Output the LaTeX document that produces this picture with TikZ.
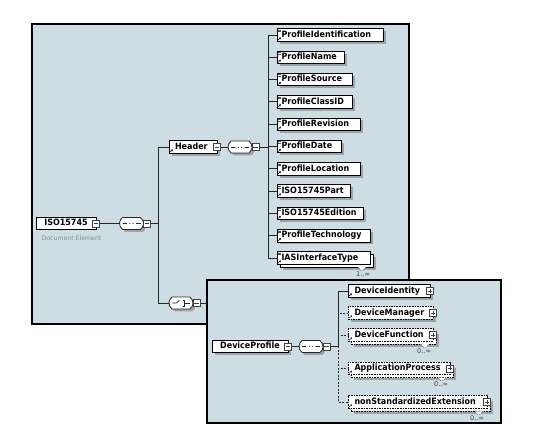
\documentclass[tikz,border=0pt]{standalone}
\usepackage{fontspec}
\usetikzlibrary{shapes.misc,shadows,arrows.meta}
\newfontfamily\dvs{DejaVu Sans}
\newfontfamily\dvb{DejaVu Sans}[FakeStretch=0.92]
\newcommand\elfont{\dvb\bfseries\fontsize{8.7}{9.5}\selectfont}
\newcommand\lbox[2]{\makebox[#1pt][l]{#2}}
\definecolor{panelbg}{RGB}{206,220,228}
\definecolor{shd}{RGB}{156,164,170}
\definecolor{lbl}{RGB}{136,144,150}
\begin{document}
\begin{tikzpicture}[x=1pt,y=-1pt,
  every node/.style={outer sep=0pt},
  panel/.style={draw=black, fill=panelbg, anchor=north west, inner sep=0pt},
  shdw/.style={drop shadow={shadow xshift=2.5pt,shadow yshift=-2.5pt,fill=shd,opacity=1}},
  elbox/.style={draw=black, fill=white, line width=0.8pt, anchor=west, minimum height=12.5pt,
    inner ysep=0pt, font=\elfont, text height=6.3pt, text depth=1.8pt},
  opt/.style={dash pattern=on 1.6pt off 1pt},
  refic/.style={path picture={\draw[black, line width=0.5pt, -{Stealth[length=1.8pt,width=2.2pt]}]
      ([xshift=1.2pt,yshift=1.2pt]path picture bounding box.south west) -- ++(2.6pt,2.6pt);}},
  attric/.style={path picture={\draw[black, line width=0.5pt, -{Stealth[length=1.8pt,width=2.2pt]}]
      ([xshift=1.2pt,yshift=1.2pt]path picture bounding box.south west) -- ++(2.6pt,2.6pt);
      \draw[black!70, line width=0.6pt] ([xshift=1pt,yshift=-1.4pt]path picture bounding box.north west) -- ++(3.2pt,0pt)
      ([xshift=1pt,yshift=-3pt]path picture bounding box.north west) -- ++(3.2pt,0pt);}},
  pmbox/.style={shape=rectangle, draw=black!75, fill=white, line width=0.6pt, minimum size=7pt, inner sep=0pt},
  minus/.style={pmbox, path picture={\draw[line width=0.6pt] ([xshift=1.4pt]path picture bounding box.west) -- ([xshift=-1.4pt]path picture bounding box.east);}},
  plus/.style={pmbox, path picture={\draw[line width=0.6pt] ([xshift=1.4pt]path picture bounding box.west) -- ([xshift=-1.4pt]path picture bounding box.east)
      ([yshift=1.4pt]path picture bounding box.south) -- ([yshift=-1.4pt]path picture bounding box.north);}},
  comp/.style={rounded rectangle, rounded rectangle arc length=110,
    draw=black!85, fill=white, line width=0.8pt, minimum width=24pt, minimum height=12pt, inner sep=0pt, shdw},
  seq/.style={comp, path picture={\coordinate (pc) at (path picture bounding box.center);
      \draw[line width=0.7pt] ([xshift=-9pt]pc) -- ([xshift=9pt]pc);
      \fill ([xshift=-4.6pt,yshift=-1pt]pc) rectangle ([xshift=-2.2pt,yshift=1pt]pc)
            ([xshift=-1.2pt,yshift=-1pt]pc) rectangle ([xshift=1.2pt,yshift=1pt]pc)
            ([xshift=2.2pt,yshift=-1pt]pc) rectangle ([xshift=4.6pt,yshift=1pt]pc);}},
  choice/.style={comp, path picture={\coordinate (pc) at (path picture bounding box.center);
      \draw[line width=0.7pt] ([xshift=-9pt]pc) -- ([xshift=-4.5pt]pc) -- ([xshift=-1.5pt,yshift=2.8pt]pc);
      \fill ([yshift=3pt]pc) circle (0.8pt) (pc) circle (0.8pt) ([yshift=-3pt]pc) circle (0.8pt);
      \draw[line width=0.7pt] ([xshift=1.5pt,yshift=3pt]pc) -- ([xshift=3.4pt,yshift=3pt]pc) -- ([xshift=3.4pt,yshift=-3pt]pc) -- ([xshift=1.5pt,yshift=-3pt]pc)
            ([xshift=3.4pt]pc) -- ([xshift=9pt]pc);}},
  conn/.style={draw=black!85, line width=0.9pt},
  notch/.style={draw=black!70, fill=white, line width=0.5pt},
  occ/.style={font=\dvs\fontsize{6.6}{7.5}\selectfont, text=black!75, inner sep=0pt, anchor=east},
  doclbl/.style={font=\dvs\fontsize{6.2}{7}\selectfont, text=lbl, inner sep=0pt}
]
\useasboundingbox (0,0) rectangle (557,430);

% ---------- outer panel ----------
\node[panel, line width=1.2pt, minimum width=377pt, minimum height=300pt] (p1) at (32,24) {};

\node[elbox, line width=1pt, minimum width=60pt, inner xsep=0pt] (iso) at (36,223.5) {ISO15745};
\node[minus] (isoM) at (iso.east) {};
\node[doclbl] (isoL) at (71.5,238.5) {Document Element};

\node[seq] (c1) at (131.5,223.5) {};
\node[minus, anchor=west] (c1M) at (c1.east) {};
\coordinate (j1) at (158,223.5);

\node[elbox, refic, inner xsep=6pt, shdw] (hdr) at (169,147) {\lbox{36}{Header}};
\node[minus] (hdrM) at (hdr.east) {};
\node[seq] (c2) at (240,147) {};
\node[minus, anchor=west] (c2M) at (c2.east) {};
\coordinate (j2) at (268,147);

\node[choice] (ch) at (181,303) {};
\node[minus, anchor=west] (chM) at (ch.east) {};

\draw[conn] (isoM.east) -- (c1.west);
\draw[conn] (c1M.east) -- (j1);
\draw[conn] (j1) |- (hdr.west);
\draw[conn] (j1) |- (ch.west);
\draw[conn] (hdrM.east) -- (c2.west);
\draw[conn] (c2M.east) -- (j2);

% header children
\node[elbox, attric, inner xsep=4.5pt, shdw] (pid) at (277,35) {\lbox{97}{ProfileIdentification}};
\node[elbox, attric, inner xsep=4.5pt, shdw] (pnm) at (277,57.3) {\lbox{58}{ProfileName}};
\node[elbox, attric, inner xsep=4.5pt, shdw] (psr) at (277,79.6) {\lbox{66}{ProfileSource}};
\node[elbox, attric, inner xsep=4.5pt, shdw] (pcl) at (277,101.9) {\lbox{66}{ProfileClassID}};
\node[elbox, attric, inner xsep=4.5pt, shdw] (prv) at (277,124.2) {\lbox{74}{ProfileRevision}};
\node[elbox, attric, inner xsep=4.5pt, shdw] (pdt) at (277,146.5) {\lbox{55}{ProfileDate}};
\node[elbox, attric, inner xsep=4.5pt, shdw] (plc) at (277,168.8) {\lbox{74}{ProfileLocation}};
\node[elbox, attric, inner xsep=4.5pt, shdw] (ipt) at (277,191.1) {\lbox{64}{ISO15745Part}};
\node[elbox, attric, inner xsep=4.5pt, shdw] (ied) at (277,213.4) {\lbox{77}{ISO15745Edition}};
\node[elbox, attric, inner xsep=4.5pt, shdw] (ptc) at (277,235.7) {\lbox{84}{ProfileTechnology}};
\node[elbox, shdw, minimum width=93pt] (iasB) at (280,261) {};
\draw[notch] ([xshift=-15pt]iasB.south east) -- ++(2.5pt,-3pt) -- ++(3pt,0pt) -- ++(2.5pt,3pt);
\node[elbox, attric, inner xsep=4.5pt] (ias) at (277,258) {\lbox{84}{IASInterfaceType}};
\node[occ] (iasO) at (370,274) {1..∞};

\foreach \n in {pid,pnm,psr,pcl,prv,pdt,plc,ipt,ied,ptc,ias}
  \draw[conn] (j2) |- (\n.west);

% ---------- inner panel ----------
\node[panel, line width=2pt, minimum width=294pt, minimum height=143pt] (p2) at (207,280) {};
\draw[conn] (chM.east) -- (chM.east -| p2.west);

\node[elbox, shdw, minimum width=76pt, inner xsep=0pt] (dp) at (212,346.5) {DeviceProfile};
\node[minus] (dpM) at (dp.east) {};
\node[seq] (c3) at (311,346.5) {};
\node[minus, anchor=west] (c3M) at (c3.east) {};
\coordinate (j3) at (338,346.5);
\draw[conn] (dpM.east) -- (c3.west);
\draw[conn] (c3M.east) -- (j3);

\node[elbox, refic, inner xsep=6.5pt, shdw] (di) at (348,291) {\lbox{69}{DeviceIdentity}};
\node[plus] (diP) at (di.east) {};

\node[elbox, opt, refic, inner xsep=6.5pt, shdw] (dm) at (348,313) {\lbox{72}{DeviceManager}};
\node[plus] (dmP) at (dm.east) {};

\node[elbox, opt, shdw, minimum width=85pt] (dfB) at (351,338) {};
\draw[notch, opt] ([xshift=-15pt]dfB.south east) -- ++(2.5pt,-3pt) -- ++(3pt,0pt) -- ++(2.5pt,3pt);
\node[elbox, opt, refic, inner xsep=6.5pt] (df) at (348,335) {\lbox{72}{DeviceFunction}};
\node[plus] (dfP) at (df.east) {};
\node[occ] (dfO) at (431,351) {0..∞};

\node[elbox, opt, shdw, minimum width=102pt] (apB) at (351,371.3) {};
\draw[notch, opt] ([xshift=-15pt]apB.south east) -- ++(2.5pt,-3pt) -- ++(3pt,0pt) -- ++(2.5pt,3pt);
\node[elbox, opt, refic, inner xsep=6.5pt] (ap) at (348,368.3) {\lbox{89}{ApplicationProcess}};
\node[plus] (apP) at (ap.east) {};
\node[occ] (apO) at (448,384.5) {0..∞};

\node[elbox, opt, shdw, minimum width=139pt] (nsB) at (351,405) {};
\draw[notch, opt] ([xshift=-15pt]nsB.south east) -- ++(2.5pt,-3pt) -- ++(3pt,0pt) -- ++(2.5pt,3pt);
\node[elbox, opt, refic, inner xsep=6.5pt] (ns) at (348,402) {\lbox{126}{nonStandardizedExtension}};
\node[plus] (nsP) at (ns.east) {};
\node[occ] (nsO) at (484,418) {0..∞};

\draw[conn] (j3) |- (di.west);
\foreach \n in {dm,df,ap,ns}
  \draw[conn, dash pattern=on 2pt off 1.5pt] (j3) |- (\n.west);
\end{tikzpicture}
\end{document}
